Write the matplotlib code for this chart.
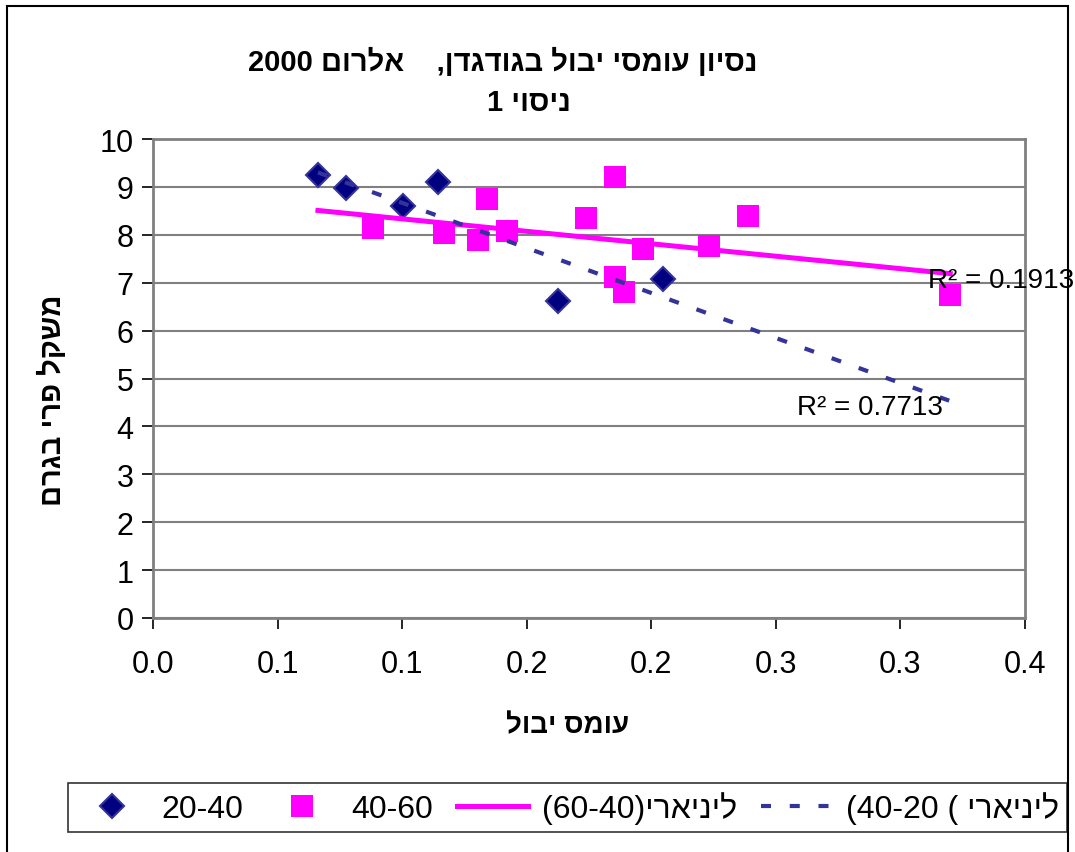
import matplotlib
matplotlib.use('Agg')
import matplotlib.pyplot as plt
import numpy as np
from matplotlib.patches import Rectangle

plt.rcParams['font.family'] = ['Liberation Sans', 'DejaVu Sans']


def heb(s):
    # matplotlib has no bidi support, write Hebrew in visual order
    return s[::-1]


# series 20-40 (diamonds)
x_2040 = [0.0662, 0.0775, 0.1004, 0.1144, 0.1626, 0.2047]
y_2040 = [9.25, 8.98, 8.60, 9.10, 6.62, 7.08]

# series 40-60 (squares)
x_4060 = [0.0883, 0.1168, 0.1305, 0.1341, 0.1421, 0.1738, 0.1855, 0.1855, 0.1891, 0.1967, 0.2232, 0.2389, 0.3200]
y_4060 = [8.14, 8.04, 7.89, 8.75, 8.08, 8.35, 9.21, 7.12, 6.81, 7.70, 7.77, 8.40, 6.74]

x_ticks = [0, 0.05, 0.10, 0.15, 0.20, 0.25, 0.30, 0.35]
x_tick_labels = ['0.0', '0.1', '0.1', '0.2', '0.2', '0.3', '0.3', '0.4']
y_ticks = list(range(0, 11))

r2_4060 = 'R² = 0.1913'
r2_2040 = 'R² = 0.7713'

title1 = '2000 ' + heb('אלרום') + '    ' + heb('נסיון עומסי יבול בגודגדן,')
title2 = heb('ניסוי 1')
xlab = heb('עומס יבול')
ylab = heb('משקל פרי בגרם')
leg_labels = ['20-40', '40-60', '(60-40)' + heb('ליניארי'), '(40-20 ( ' + heb('ליניארי')]

fig = plt.figure(figsize=(10.75, 8.53), dpi=100)
ax = fig.add_axes([153 / 1075, 1 - 619 / 853, (1025 - 153) / 1075, (619 - 140) / 853])

# trend lines over full x range
all_x = np.array(x_2040 + x_4060)
xt = np.array([all_x.min(), all_x.max()])
p1 = np.polyfit(x_4060, y_4060, 1)
p2 = np.polyfit(x_2040, y_2040, 1)

s1, = ax.plot(x_2040, y_2040, linestyle='none', marker='D', markersize=12,
              markerfacecolor='#000080', markeredgecolor='#333399', markeredgewidth=1.5, zorder=3)
s2, = ax.plot(x_4060, y_4060, linestyle='none', marker='s', markersize=16,
              markerfacecolor='#FF00FF', markeredgecolor='#FF00FF', markeredgewidth=0, zorder=3)
l1, = ax.plot(xt, np.polyval(p1, xt), color='#FF00FF', lw=3.6, zorder=4)
l2, = ax.plot(xt, np.polyval(p2, xt), color='#333399', lw=3, linestyle=(0, (2.4, 4.5)), zorder=4)

ax.text(0.311, 7.05, r2_4060, fontsize=20, ha='left', va='center', zorder=5)
ax.text(0.2585, 4.4, r2_2040, fontsize=20, ha='left', va='center', zorder=5)

ax.set_xlim(0, 0.35)
ax.set_ylim(0, 10)
ax.set_xticks(x_ticks)
ax.set_xticklabels(x_tick_labels)
ax.set_yticks(y_ticks)
ax.tick_params(axis='both', labelsize=22, length=8, width=1.2, direction='out', color='black')
ax.tick_params(axis='x', pad=14)
ax.tick_params(axis='y', pad=6)
ax.yaxis.grid(True, color='#808080', lw=1.5)
ax.set_axisbelow(True)
for sp in ax.spines.values():
    sp.set_color('#808080')
    sp.set_linewidth(2)

ax.set_xlabel(xlab, fontsize=20, fontweight='bold')
ax.xaxis.set_label_coords((568 - 153) / 872, (619 - 713) / 479)
ax.set_ylabel(ylab, fontsize=21, fontweight='bold')
ax.yaxis.set_label_coords((67 - 153) / 872, (619 - 400) / 479)

fig.text(503 / 1075, 1 - 62 / 853, title1, fontsize=21, fontweight='bold', ha='center', va='center')
fig.text(529 / 1075, 1 - 103 / 853, title2, fontsize=21, fontweight='bold', ha='center', va='center')

leg = fig.legend([s1, s2, l1, l2], leg_labels, loc='center', ncol=4,
                 bbox_to_anchor=(567.5 / 1075, 1 - 808.5 / 853),
                 numpoints=1, fontsize=23, frameon=True, fancybox=False,
                 handlelength=2.2, borderpad=0.25, borderaxespad=0,
                 columnspacing=0.75, handletextpad=0.45)
leg.get_frame().set_edgecolor('black')
leg.get_frame().set_linewidth(1.2)

fig.patches.append(Rectangle((7 / 1075, -0.05), (1068 - 7) / 1075, 1.05 - 7 / 853,
                             transform=fig.transFigure, fill=False, edgecolor='black', lw=1.5))

fig.savefig('out.png', dpi=100)
